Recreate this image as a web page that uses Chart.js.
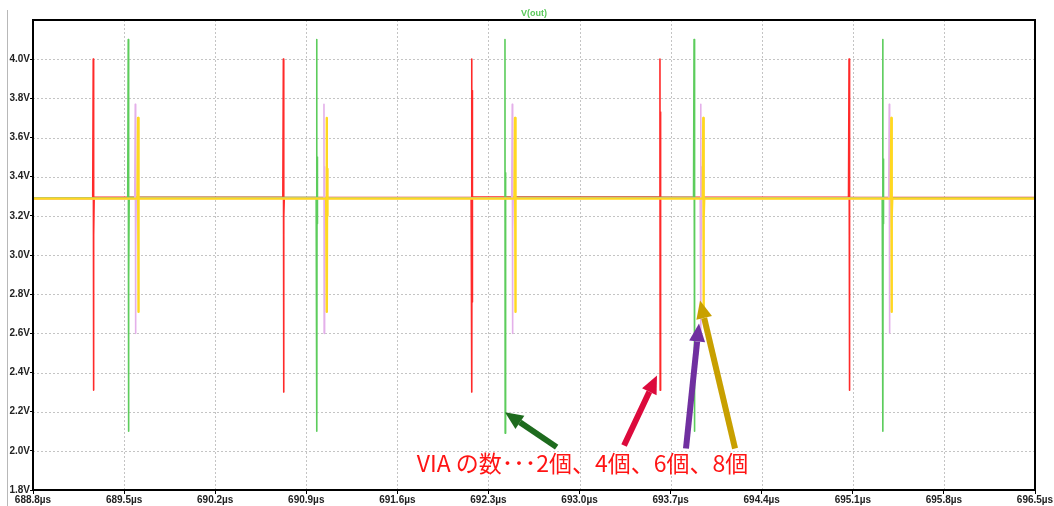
<!DOCTYPE html>
<html><head><meta charset="utf-8">
<script src="https://cdn.jsdelivr.net/npm/chart.js@4.4.0/dist/chart.umd.min.js"></script>
<style>
html,body{margin:0;padding:0;background:#fff;overflow:hidden}
#wrap{position:relative;width:1054px;height:506px}
#c{position:absolute;left:0;top:0}
#edge{position:absolute;left:7px;top:10px;width:1px;height:496px;background:#b8b8b8}
</style>
</head><body><div id="wrap"><canvas id="c" width="1054" height="506"></canvas><div id="edge"></div></div>
<script>
// ---- axis ticks ----
const xTickValues = [688.8, 689.5, 690.2, 690.9, 691.6, 692.3, 693.0, 693.7, 694.4, 695.1, 695.8, 696.5];
const yTickValues = [1.8, 2.0, 2.2, 2.4, 2.6, 2.8, 3.0, 3.2, 3.4, 3.6, 3.8, 4.0];
const xRange = [688.8, 696.5];
const yRange = [1.8, 4.2];
const chartTitle = 'V(out)';

// ---- red trace (spikes) ----
const redSpikeTimes = [689.263, 690.724, 692.171, 693.618, 695.071];
const redSpikeHigh  = [4.00, 4.00, 4.00, 4.00, 4.00];
const redSpikeLow   = [2.31, 2.30, 2.30, 2.31, 2.31];
const redRingHigh   = [3.49, 3.42, 3.84, 3.73, 3.53];
const redRingLow    = [3.10, 3.19, 2.76, 3.00, 3.11];
const redBaseline   = [3.289, 3.295, 3.294, 3.296, 3.295, 3.293];

// ---- green trace ----
const greenSpikeTimes = [689.532, 690.980, 692.427, 693.880, 695.330];
const greenSpikeHigh  = [4.10, 4.10, 4.10, 4.10, 4.10];
const greenSpikeLow   = [2.10, 2.10, 2.09, 2.10, 2.10];
const greenRingHigh   = [3.67, 3.50, 3.42, 3.67, 3.49];
const greenRingLow    = [2.86, 3.16, 3.26, 2.67, 3.16];
const greenBaseline   = [3.291, 3.293, 3.292, 3.293, 3.292, 3.291];

// ---- pink trace ----
const pinkSpikeTimes = [689.586, 691.036, 692.483, 693.931, 695.380];
const pinkSpikeHigh  = [3.77, 3.77, 3.77, 3.77, 3.77];
const pinkSpikeLow   = [2.60, 2.60, 2.60, 2.60, 2.60];
const pinkRingHigh   = [3.59, 3.45, 3.42, 3.45, 3.44];
const pinkRingLow    = [3.01, 3.10, 3.13, 3.08, 3.10];
const pinkBaseline   = [3.288, 3.289, 3.289, 3.290, 3.289, 3.288];

// ---- yellow trace ----
const yellowSpikeTimes = [689.607, 691.057, 692.504, 693.951, 695.396];
const yellowSpikeHigh  = [3.70, 3.70, 3.70, 3.70, 3.70];
const yellowSpikeLow   = [2.71, 2.71, 2.71, 2.71, 2.71];
const yellowRingHigh   = [3.45, 3.44, 3.43, 3.44, 3.43];
const yellowRingLow    = [3.18, 3.20, 3.20, 3.19, 3.20];
const yellowBaseline   = [3.288, 3.288, 3.288, 3.288, 3.288, 3.288];

// ---- annotation ----
const noteText = 'VIA の数･･･2個、4個、6個、8個';
const notePos = [693.023, 1.935];
const arrowTailT = [692.824, 693.342, 693.818, 694.195];
const arrowTailV = [2.019, 2.027, 2.012, 2.012];
const arrowTipT  = [692.427, 693.595, 693.918, 693.926];
const arrowTipV  = [2.197, 2.385, 2.650, 2.768];
const arrowColors = ['#1e6b1e', '#dc0a3c', '#7030a0', '#c8a000'];

function buildTrace(times, hi, lo, rHi, rLo, base) {
  const pts = [{x: xRange[0], y: base[0]}];
  for (let i = 0; i < times.length; i++) {
    const t = times[i];
    pts.push({x: t - 0.004, y: base[i]});
    pts.push({x: t, y: hi[i]});
    pts.push({x: t + 0.0015, y: lo[i]});
    pts.push({x: t + 0.003, y: rHi[i]});
    pts.push({x: t + 0.0045, y: rLo[i]});
    pts.push({x: t + 0.007, y: base[i + 1]});
  }
  pts.push({x: xRange[1], y: base[base.length - 1]});
  return pts;
}

const series = [
  {label: 'yellow', color: '#ffd820', w: 2.4, data: buildTrace(yellowSpikeTimes, yellowSpikeHigh, yellowSpikeLow, yellowRingHigh, yellowRingLow, yellowBaseline)},
  {label: 'pink',   color: '#e4b0ea', w: 1.6, data: buildTrace(pinkSpikeTimes, pinkSpikeHigh, pinkSpikeLow, pinkRingHigh, pinkRingLow, pinkBaseline)},
  {label: 'green',  color: '#5ccc5c', w: 1.6, data: buildTrace(greenSpikeTimes, greenSpikeHigh, greenSpikeLow, greenRingHigh, greenRingLow, greenBaseline)},
  {label: 'red',    color: '#ff2a2a', w: 1.6, data: buildTrace(redSpikeTimes, redSpikeHigh, redSpikeLow, redRingHigh, redRingLow, redBaseline)}
];

const decor = {
  id: 'decor',
  beforeDatasetsDraw(chart) {
    const {ctx, chartArea: a, scales: {x, y}} = chart;
    ctx.save();
    ctx.strokeStyle = '#c4c4c4';
    ctx.lineWidth = 1;
    ctx.setLineDash([2, 2]);
    xTickValues.forEach(v => {
      const px = Math.round(x.getPixelForValue(v)) + 0.5;
      ctx.beginPath(); ctx.moveTo(px, a.top); ctx.lineTo(px, a.bottom); ctx.stroke();
    });
    yTickValues.forEach(v => {
      const py = Math.round(y.getPixelForValue(v)) + 0.5;
      ctx.beginPath(); ctx.moveTo(a.left, py); ctx.lineTo(a.right, py); ctx.stroke();
    });
    ctx.restore();
  },
  afterDraw(chart) {
    const {ctx, chartArea: a, scales: {x, y}} = chart;
    ctx.save();
    // frame
    ctx.strokeStyle = '#000';
    ctx.lineWidth = 2;
    ctx.strokeRect(a.left, a.top, a.right - a.left, a.bottom - a.top);
    // title
    ctx.fillStyle = '#5ac85a';
    ctx.font = 'bold 9px "Liberation Sans", Arial, sans-serif';
    ctx.textAlign = 'center';
    ctx.textBaseline = 'alphabetic';
    ctx.fillText(chartTitle, (a.left + a.right) / 2, a.top - 4);
    // arrows
    for (let i = 0; i < arrowColors.length; i++) {
      const x0 = x.getPixelForValue(arrowTailT[i]), y0 = y.getPixelForValue(arrowTailV[i]);
      const x1 = x.getPixelForValue(arrowTipT[i]), y1 = y.getPixelForValue(arrowTipV[i]);
      const ang = Math.atan2(y1 - y0, x1 - x0);
      const hl = 18, hw = 8;
      const bx = x1 - hl * Math.cos(ang), by = y1 - hl * Math.sin(ang);
      ctx.strokeStyle = arrowColors[i];
      ctx.fillStyle = arrowColors[i];
      ctx.lineWidth = 6;
      ctx.lineCap = 'butt';
      ctx.beginPath(); ctx.moveTo(x0, y0); ctx.lineTo(bx, by); ctx.stroke();
      ctx.beginPath();
      ctx.moveTo(x1, y1);
      ctx.lineTo(bx + hw * Math.sin(ang), by - hw * Math.cos(ang));
      ctx.lineTo(bx - hw * Math.sin(ang), by + hw * Math.cos(ang));
      ctx.closePath(); ctx.fill();
    }
    // note text
    ctx.fillStyle = '#ff1414';
    ctx.font = '23px "Noto Sans CJK JP", sans-serif';
    ctx.textAlign = 'center';
    ctx.textBaseline = 'middle';
    ctx.fillText(noteText, x.getPixelForValue(notePos[0]), y.getPixelForValue(notePos[1]));
    ctx.restore();
  }
};

const tickFont = {family: '"Liberation Sans", Arial, sans-serif', size: 10, weight: 'bold'};

new Chart(document.getElementById('c'), {
  type: 'line',
  data: {
    datasets: series.map(s => ({
      label: s.label, data: s.data, borderColor: s.color, borderWidth: s.w,
      pointRadius: 0, tension: 0, fill: false, borderJoinStyle: 'round'
    }))
  },
  options: {
    responsive: false, animation: false, devicePixelRatio: 1,
    layout: {padding: {top: 20, right: 19, left: 0, bottom: 0}},
    plugins: {legend: {display: false}, tooltip: {enabled: false}},
    scales: {
      x: {
        type: 'linear', min: xRange[0], max: xRange[1],
        afterBuildTicks: s => { s.ticks = xTickValues.map(v => ({value: v})); },
        afterFit: s => { s.height = 16; },
        ticks: {autoSkip: false, maxRotation: 0, padding: 0, font: tickFont, color: '#222',
          callback: v => Number(v).toFixed(1) + 'µs'},
        grid: {drawOnChartArea: false, tickLength: 4, tickColor: '#000', tickWidth: 1, color: '#000'},
        border: {display: false}
      },
      y: {
        type: 'linear', min: yRange[0], max: yRange[1],
        afterBuildTicks: s => { s.ticks = yTickValues.map(v => ({value: v})); },
        afterFit: s => { s.width = 33; },
        ticks: {autoSkip: false, padding: 0, font: tickFont, color: '#222',
          callback: v => Number(v).toFixed(1) + 'V'},
        grid: {drawOnChartArea: false, tickLength: 3, tickColor: '#000', tickWidth: 1, color: '#000'},
        border: {display: false}
      }
    }
  },
  plugins: [decor]
});
</script></body></html>
